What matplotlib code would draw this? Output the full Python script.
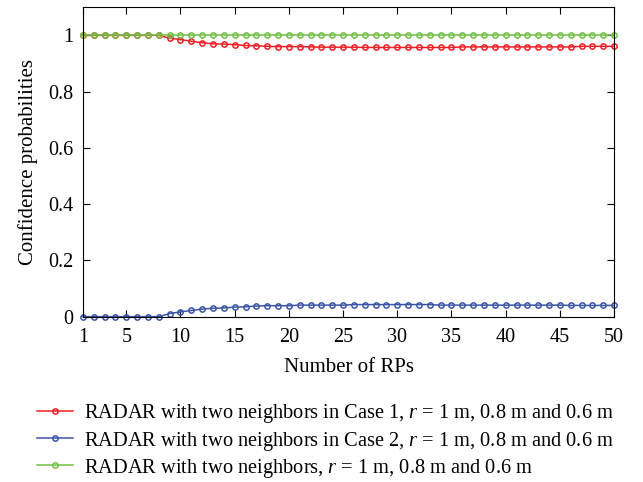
import numpy as np
import matplotlib.pyplot as plt

plt.rcParams['font.family'] = 'Liberation Serif'
plt.rcParams['mathtext.fontset'] = 'custom'
plt.rcParams['mathtext.it'] = 'Liberation Serif:italic'
plt.rcParams['mathtext.rm'] = 'Liberation Serif'

rps = np.arange(1, 51)

case1 = [1.0, 1.0, 1.0, 1.0, 1.0, 1.0, 1.0, 1.0, 0.99, 0.985,
         0.979, 0.974, 0.970, 0.969, 0.967, 0.964, 0.963, 0.961, 0.960, 0.960,
         0.960, 0.959, 0.958, 0.958, 0.958, 0.958, 0.957, 0.957, 0.957, 0.957,
         0.957, 0.957, 0.957, 0.957, 0.957, 0.959, 0.959, 0.959, 0.959, 0.959,
         0.959, 0.959, 0.959, 0.959, 0.959, 0.959, 0.961, 0.961, 0.961, 0.961]
case2 = [0.0, 0.0, 0.0, 0.0, 0.0, 0.0, 0.0, 0.0, 0.011, 0.017,
         0.022, 0.027, 0.030, 0.031, 0.034, 0.035, 0.038, 0.039, 0.039, 0.039,
         0.041, 0.041, 0.041, 0.041, 0.041, 0.043, 0.043, 0.043, 0.043, 0.043,
         0.043, 0.043, 0.043, 0.041, 0.041, 0.041, 0.041, 0.041, 0.041, 0.041,
         0.041, 0.041, 0.041, 0.041, 0.041, 0.040, 0.040, 0.040, 0.040, 0.040]
both = [1.0] * 50

labels = [
    r'RADAR with two neighbors in Case 1, $r$ = 1 m, 0.8 m and 0.6 m',
    r'RADAR with two neighbors in Case 2, $r$ = 1 m, 0.8 m and 0.6 m',
    r'RADAR with two neighbors, $r$ = 1 m, 0.8 m and 0.6 m',
]
colors = ['#ee2026', '#3b55a5', '#70bf44']

fig = plt.figure(figsize=(6.43, 4.82), dpi=100)
ax = fig.add_axes([0.129, 0.343, 0.826, 0.642])

for vals, c, lab in zip([case1, case2, both], colors, labels):
    ax.plot(rps, vals, color=c, lw=1.1, marker='o', ms=3.8, mfc='none',
            mew=1.1, label=lab, clip_on=False)

ax.set_xlim(1, 50)
ax.set_ylim(0, 1.1)
ax.set_xticks([1, 5, 10, 15, 20, 25, 30, 35, 40, 45, 50])
ax.set_yticks([0, 0.2, 0.4, 0.6, 0.8, 1.0])
ax.set_yticklabels(['0', '0.2', '0.4', '0.6', '0.8', '1'])
ax.tick_params(direction='in', top=True, right=True, labelsize=14.5, length=5)
ax.tick_params(axis='x', pad=8)
ax.tick_params(axis='y', pad=7)
ax.set_xlabel('Number of RPs', fontsize=15, labelpad=8)
ax.set_ylabel('Confidence probabilities', fontsize=15, labelpad=7)

fig.legend(loc='upper left', bbox_to_anchor=(0.045, 0.182), frameon=False,
           fontsize=14.7, handlelength=1.75, handletextpad=0.55,
           labelspacing=0.2, borderaxespad=0)

fig.savefig('out.png', dpi=100)
